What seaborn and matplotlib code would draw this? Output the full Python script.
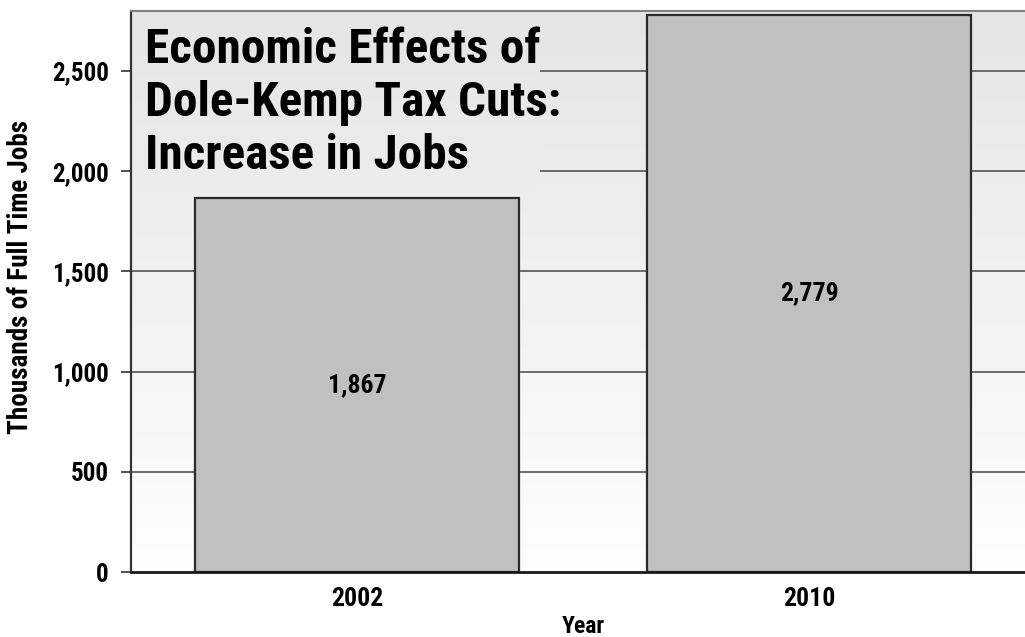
import numpy as np
import pandas as pd
import matplotlib
matplotlib.use("Agg")
import matplotlib.pyplot as plt
import seaborn as sns

years = ["2002", "2010"]
jobs = [1867, 2779]
bar_labels = ["1,867", "2,779"]
ytick_vals = [0, 500, 1000, 1500, 2000, 2500]
ytick_labels = ["0", "500", "1,000", "1,500", "2,000", "2,500"]
title = "Economic Effects of\nDole-Kemp Tax Cuts:\nIncrease in Jobs"

sns.set_theme(style="white")
plt.rcParams["font.family"] = ["Roboto Condensed", "DejaVu Sans"]
plt.rcParams["text.color"] = "black"
plt.rcParams["axes.labelcolor"] = "black"
plt.rcParams["xtick.color"] = "black"
plt.rcParams["ytick.color"] = "black"

df = pd.DataFrame({"Year": years, "Jobs": jobs})

fig = plt.figure(figsize=(10.25, 6.37), dpi=100)
ax = fig.add_axes([131/1025, 1-572/637, 904/1025, 561/637])

YMAX = 2800

def grad(y0, y1, n=200):
    ys = np.linspace(y1, y0, n)
    v = 0.996 - (0.996 - 0.898) * (ys / YMAX)
    return np.dstack([v, v, v]).reshape(n, 1, 3)

ax.imshow(grad(0, YMAX), extent=[-0.5, 1.5, 0, YMAX], aspect="auto", zorder=0,
          interpolation="bilinear")

sns.barplot(data=df, x="Year", y="Jobs", color="#c0c0c0", saturation=1,
            edgecolor="#2a2a2a", linewidth=1.6, width=0.715, ax=ax, zorder=3)

for y in ytick_vals[1:]:
    ax.axhline(y, color="#555555", lw=1.2, zorder=1)

# title box covering gridlines
bx1 = (540 - 131) / 452 - 0.5
by0 = 1880
ax.imshow(grad(by0, YMAX), extent=[-0.5, bx1, by0, YMAX], aspect="auto", zorder=2,
          interpolation="bilinear")
ax.text(-0.47, 2718, title, fontsize=35.5, fontweight="bold", va="top", ha="left",
        linespacing=1.19, zorder=4)

for i, (v, lab) in enumerate(zip(jobs, bar_labels)):
    ax.text(i, v / 2, lab, ha="center", va="center", fontsize=18.5, fontweight="bold", zorder=5)

ax.set_xlim(-0.5, 1.5)
ax.set_ylim(0, YMAX)
ax.set_yticks(ytick_vals)
ax.set_yticklabels(ytick_labels, fontsize=18, fontweight="bold")
ax.set_xticks([0, 1])
ax.set_xticklabels(years, fontsize=18.5, fontweight="bold")
ax.set_xticks([-0.5, 0.5, 1.5], minor=True)
ax.tick_params(axis="x", which="major", length=0, pad=11)
ax.tick_params(axis="x", which="minor", length=7, width=1.2, color="#333333", direction="out")
ax.tick_params(axis="y", which="major", length=7, width=1.2, color="#333333", direction="out", pad=9, left=True)
ax.set_xlabel("Year", fontsize=17, fontweight="bold", labelpad=3)
ax.set_ylabel("Thousands of Full Time Jobs", fontsize=19.5, fontweight="bold")
ax.yaxis.set_label_coords(-0.107, 0.525)

ax.spines["left"].set_color("#333333")
ax.spines["left"].set_linewidth(1.6)
ax.spines["bottom"].set_color("#1a1a1a")
ax.spines["bottom"].set_linewidth(2)
ax.spines["top"].set_color("#808080")
ax.spines["top"].set_linewidth(1.5)
ax.spines["right"].set_visible(False)
for s in ax.spines.values():
    s.set_zorder(6)

fig.savefig("out.png", dpi=100)
